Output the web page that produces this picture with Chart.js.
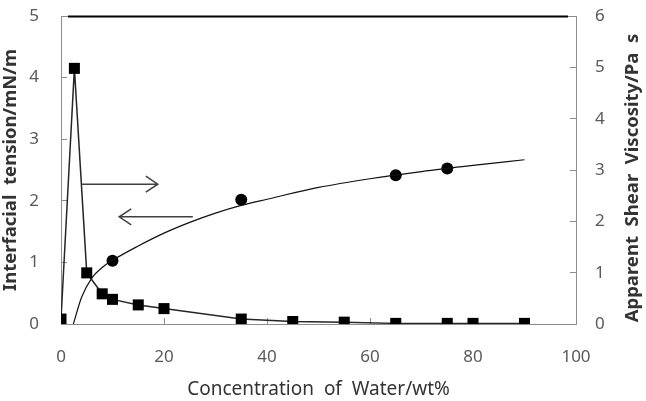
<!DOCTYPE html>
<html>
<head>
<meta charset="utf-8">
<script src="https://cdn.jsdelivr.net/npm/chart.js@4/dist/chart.umd.min.js"></script>
<style>
  html, body { margin: 0; padding: 0; background: #fff; }
  #wrap { width: 646px; height: 401px; }
</style>
</head>
<body>
<div id="wrap"><canvas id="myChart" width="646" height="401"></canvas></div>
<script>
// interfacial tension (left axis), squares
const waterTension = [0, 2.6, 5, 8, 10, 15, 20, 35, 45, 55, 65, 75, 80, 90];
const tension = [0.08, 4.15, 0.83, 0.49, 0.4, 0.31, 0.25, 0.08, 0.04, 0.03, 0.01, 0.01, 0.01, 0.01];

// apparent shear viscosity (right axis), circles
const waterVisc = [10, 35, 65, 75];
const viscosity = [1.23, 2.42, 2.9, 3.03];

// trend curve through the viscosity points
const waterCurve = [2.4, 4, 6, 8, 10, 15, 20, 25, 30, 35, 40, 50, 60, 70, 80, 90];
const viscCurve = [0, 0.52, 0.9, 1.1, 1.24, 1.52, 1.77, 1.98, 2.16, 2.31, 2.43, 2.66, 2.83, 2.97, 3.09, 3.2];

const xTicks = [0, 20, 40, 60, 80, 100];
const leftTicks = [0, 1, 2, 3, 4, 5];
const rightTicks = [0, 1, 2, 3, 4, 5, 6];

// arrows: from x0 to x1 (water %), at height y on the left axis
const arrows = [
  { x0: 4.1, x1: 18.8, y: 2.27 },
  { x0: 25.6, x1: 11.3, y: 1.74 }
];

function pts(xs, ys) {
  return xs.map((x, i) => ({ x: x, y: ys[i] }));
}

const axisGray = '#8c8c8c';
const labelGray = '#595959';
const font = 'Noto Sans';

function noPad(s) {
  s.paddingTop = 0;
  s.paddingBottom = 0;
  s.paddingLeft = 0;
  s.paddingRight = 0;
}

const extras = {
  id: 'extras',
  afterDraw(chart) {
    const ctx = chart.ctx;
    const a = chart.chartArea;
    const xs = chart.scales.x;
    const ys = chart.scales.y;
    ctx.save();
    // top frame
    ctx.strokeStyle = axisGray;
    ctx.lineWidth = 1;
    ctx.beginPath();
    ctx.moveTo(a.left, a.top + 0.5);
    ctx.lineTo(a.right, a.top + 0.5);
    ctx.stroke();
    ctx.strokeStyle = '#000';
    ctx.lineWidth = 2;
    ctx.beginPath();
    ctx.moveTo(a.left + 7, a.top + 0.5);
    ctx.lineTo(a.right - 8, a.top + 0.5);
    ctx.stroke();

    // arrows
    ctx.strokeStyle = '#404040';
    ctx.lineWidth = 1.5;
    arrows.forEach(ar => {
      const px0 = xs.getPixelForValue(ar.x0);
      const px1 = xs.getPixelForValue(ar.x1);
      const py = ys.getPixelForValue(ar.y);
      const d = px1 > px0 ? -1 : 1;
      ctx.beginPath();
      ctx.moveTo(px0, py);
      ctx.lineTo(px1, py);
      ctx.moveTo(px1 + d * 12, py - 8);
      ctx.lineTo(px1, py);
      ctx.lineTo(px1 + d * 12, py + 8);
      ctx.stroke();
    });

    // right axis title, reading bottom to top
    ctx.fillStyle = '#333';
    ctx.font = 'bold 18.5px "' + font + '"';
    ctx.textAlign = 'center';
    ctx.textBaseline = 'middle';
    ctx.translate(633, (a.top + a.bottom) / 2 + 8);
    ctx.rotate(-Math.PI / 2);
    ctx.fillText('Apparent  Shear  Viscosity/Pa  s', 0, 0);
    ctx.restore();
  }
};

const ctx = document.getElementById('myChart').getContext('2d');
const myChart = new Chart(ctx, {
  type: 'line',
  data: {
    datasets: [
      {
        label: 'Interfacial tension',
        data: pts(waterTension, tension),
        yAxisID: 'y',
        borderColor: '#262626',
        borderWidth: 1.5,
        pointStyle: 'rect',
        pointRadius: 7.8,
        pointBackgroundColor: '#000',
        pointBorderColor: '#000',
        pointBorderWidth: 0,
        tension: 0
      },
      {
        label: 'Viscosity fit',
        data: pts(waterCurve, viscCurve),
        yAxisID: 'y1',
        borderColor: '#111',
        borderWidth: 1.2,
        pointRadius: 0,
        cubicInterpolationMode: 'monotone'
      },
      {
        label: 'Apparent shear viscosity',
        data: pts(waterVisc, viscosity),
        yAxisID: 'y1',
        showLine: false,
        pointStyle: 'circle',
        pointRadius: 6,
        pointBackgroundColor: '#000',
        pointBorderColor: '#000',
        pointBorderWidth: 0
      }
    ]
  },
  options: {
    responsive: false,
    animation: false,
    layout: { padding: { top: 16, left: 0, right: 0, bottom: 0 } },
    plugins: {
      legend: { display: false },
      tooltip: { enabled: false }
    },
    scales: {
      x: {
        type: 'linear',
        position: 'bottom',
        min: 0,
        max: 100,
        afterBuildTicks: s => { s.ticks = xTicks.map(v => ({ value: v })); },
        afterFit: s => { s.height = 77; noPad(s); },
        grid: { drawOnChartArea: false, drawTicks: true, tickLength: -6, color: axisGray },
        border: { color: axisGray, width: 1 },
        ticks: { padding: 29, color: labelGray, font: { family: font, size: 17 }, maxRotation: 0 },
        title: {
          display: true,
          text: 'Concentration  of  Water/wt%',
          color: '#333',
          font: { family: font, size: 19 },
          padding: { top: 0, bottom: 0 }
        }
      },
      y: {
        position: 'left',
        min: 0,
        max: 5,
        afterBuildTicks: s => { s.ticks = leftTicks.map(v => ({ value: v })); },
        afterFit: s => { s.width = 61; noPad(s); },
        grid: { drawOnChartArea: false, drawTicks: true, tickLength: -6, color: axisGray },
        border: { color: axisGray, width: 1 },
        ticks: { padding: 28, color: labelGray, font: { family: font, size: 17 } },
        title: {
          display: true,
          text: 'Interfacial  tension/mN/m',
          color: '#333',
          font: { family: font, size: 18.5, weight: 'bold' },
          padding: { top: 0, bottom: 0 }
        }
      },
      y1: {
        position: 'right',
        min: 0,
        max: 6,
        afterBuildTicks: s => { s.ticks = rightTicks.map(v => ({ value: v })); },
        afterFit: s => { s.width = 70; noPad(s); },
        grid: { drawOnChartArea: false, drawTicks: true, tickLength: -6, color: axisGray },
        border: { color: axisGray, width: 1 },
        ticks: { padding: 25, color: labelGray, font: { family: font, size: 17 } }
      }
    }
  },
  plugins: [extras]
});
</script>
</body>
</html>
